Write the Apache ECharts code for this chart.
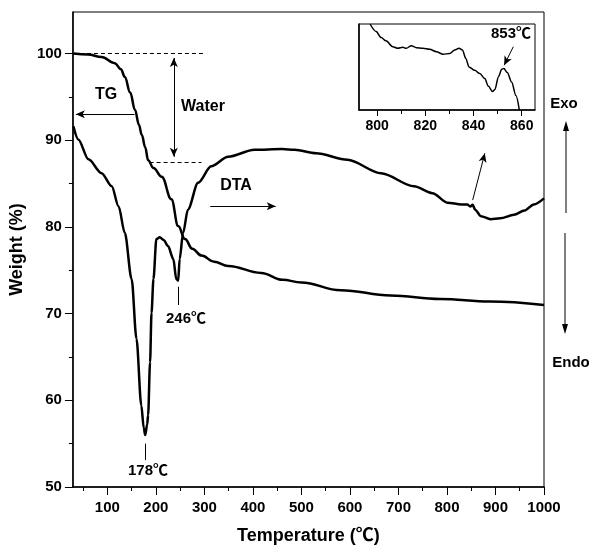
<!DOCTYPE html>
<html>
<head>
<meta charset="utf-8">
<title>TG-DTA</title>
<script src="https://cdn.jsdelivr.net/npm/echarts@6/dist/echarts.min.js"></script>
<style>
    html, body { margin: 0; padding: 0; background: #fff; }
    #tgdta { width: 594px; height: 550px; }
</style>
</head>
<body>
<div id="tgdta"></div>
<script>
// TG 曲线 (温度, 失重%)
var tgTemp = [30, 60, 88, 115, 128, 136, 147, 157, 165, 171, 178, 184, 195, 212, 232, 246, 260, 275, 294, 320, 349, 417, 461, 500, 581, 684, 786, 889, 1000];
var tgWeight = [100, 99.9, 99.6, 98.9, 98.2, 97.3, 95.5, 93.5, 91.8, 90.6, 89.2, 87.7, 86.8, 85.8, 83.2, 80.1, 78.6, 77.5, 76.7, 76.0, 75.5, 74.7, 73.9, 73.6, 72.7, 72.1, 71.7, 71.4, 71.0];

// DTA 曲线, 按主图坐标读取
var dtaTemp = [30, 40, 61, 88, 109, 123, 136, 150, 160, 170, 175, 178, 182, 184, 188, 191, 195, 201, 208, 216, 225, 236, 242, 246, 249, 256, 266, 287, 314, 349, 403, 460, 486, 530, 595, 664, 732, 770, 801, 830, 842, 848, 853, 858, 870, 890, 910, 938, 960, 979, 1000];
var dtaValue = [91.6, 90.1, 87.8, 86.2, 84.7, 82.4, 79.3, 74.0, 67.1, 59.4, 56.8, 56.0, 57.2, 58.3, 64.4, 70.1, 74.0, 78.6, 78.8, 78.5, 77.8, 76.3, 74.0, 73.8, 76.3, 79.3, 82.0, 85.1, 87.0, 88.1, 88.9, 89.0, 88.9, 88.5, 87.75, 86.2, 84.7, 83.9, 82.8, 82.6, 82.6, 82.35, 82.55, 82.0, 81.25, 80.9, 81.0, 81.4, 81.9, 82.6, 83.3];

// 插图 800-860℃ 局部放大 (纵轴无刻度, 0-100)
var insetTemp = [797.1, 799.6, 801.7, 803.7, 806.5, 808.6, 810.7, 812.1, 814.2, 816.3, 819.0, 821.8, 824.6, 827.4, 830.1, 832.2, 834.0, 835.4, 836.8, 838.1, 840.5, 842.6, 844.7, 846.1, 847.9, 848.9, 850.3, 851.7, 852.6, 854.0, 855.8, 857.6, 859.0];
var insetValue = [100, 91.3, 84.2, 80.4, 73.6, 71.7, 72.9, 71.7, 74.8, 72.5, 71.7, 70.5, 67.8, 64.7, 65.8, 69.8, 71.7, 69.8, 60, 50.1, 46.2, 42.3, 36.5, 27.8, 21.5, 23.9, 38.4, 47.4, 48.2, 43.5, 32.5, 16.8, 0];

// 刻度
var xMajorTicks = [100, 200, 300, 400, 500, 600, 700, 800, 900, 1000];
var xMinorTicks = [50, 150, 250, 350, 450, 550, 650, 750, 850, 950];
var yMajorTicks = [50, 60, 70, 80, 90, 100];
var yMinorTicks = [55, 65, 75, 85, 95];
var insetMajorTicks = [800, 820, 840, 860];
var insetMinorTicks = [810, 830, 850];

var fontFamily = 'Liberation Sans, Arial, Noto Sans CJK SC, sans-serif';

function toPairs(xs, ys) {
    var arr = [];
    for (var i = 0; i < xs.length; i++) {
        arr.push([xs[i], ys[i]]);
    }
    return arr;
}

function seg(p1, p2, startSym, endSym) {
    return [
        {coord: p1, symbol: startSym || 'none'},
        {coord: p2, symbol: endSym || 'none'}
    ];
}

function labelStyle(size) {
    return {
        color: '#000',
        fontFamily: fontFamily,
        fontWeight: 'bold',
        fontSize: size
    };
}

function plainNumber(value) {
    return String(value);
}

function textItem(text, x, y, size) {
    return {
        type: 'text',
        x: x,
        y: y,
        style: {
            text: text,
            fill: '#000',
            font: 'bold ' + size + 'px ' + fontFamily,
            textAlign: 'center',
            textVerticalAlign: 'middle'
        }
    };
}

// 次刻度单独用一根不带轴线的坐标轴画
function minorAxis(position, gridIndex, min, max, ticks) {
    return {
        type: 'value',
        gridIndex: gridIndex,
        position: position,
        min: min,
        max: max,
        axisLine: {show: false},
        splitLine: {show: false},
        axisLabel: {show: false},
        axisTick: {
            show: true,
            inside: false,
            length: 4,
            customValues: ticks,
            lineStyle: {color: '#000', width: 1}
        }
    };
}

function initTGDTAChart() {
    var option = {
        animation: false,
        grid: [
            {left: 71, top: 12, width: 473, height: 477, show: true, borderColor: '#000', borderWidth: 1},
            {left: 359, top: 24, width: 176, height: 86, show: true, borderColor: '#000', borderWidth: 1}
        ],
        xAxis: [
            {
                type: 'value',
                gridIndex: 0,
                position: 'bottom',
                min: 29,
                max: 1000,
                name: 'Temperature (℃)',
                nameLocation: 'middle',
                nameGap: 40,
                nameTextStyle: labelStyle(18),
                axisLine: {lineStyle: {color: '#000', width: 1.5}},
                splitLine: {show: false},
                axisTick: {
                    length: 8,
                    customValues: xMajorTicks,
                    lineStyle: {color: '#000', width: 1}
                },
                axisLabel: {
                    customValues: xMajorTicks,
                    formatter: plainNumber,
                    margin: 13,
                    textStyle: labelStyle(15)
                }
            },
            minorAxis('bottom', 0, 29, 1000, xMinorTicks),
            {
                type: 'value',
                gridIndex: 1,
                position: 'bottom',
                min: 792.5,
                max: 865.5,
                axisLine: {lineStyle: {color: '#000', width: 1.5}},
                splitLine: {show: false},
                axisTick: {
                    length: 6,
                    customValues: insetMajorTicks,
                    lineStyle: {color: '#000', width: 1}
                },
                axisLabel: {
                    customValues: insetMajorTicks,
                    formatter: plainNumber,
                    margin: 9,
                    textStyle: labelStyle(14)
                }
            },
            minorAxis('bottom', 1, 792.5, 865.5, insetMinorTicks)
        ],
        yAxis: [
            {
                type: 'value',
                gridIndex: 0,
                position: 'left',
                min: 50,
                max: 104.8,
                name: 'Weight (%)',
                nameLocation: 'middle',
                nameGap: 42,
                nameTextStyle: labelStyle(18),
                axisLine: {lineStyle: {color: '#000', width: 1.5}},
                splitLine: {show: false},
                axisTick: {
                    length: 8,
                    customValues: yMajorTicks,
                    lineStyle: {color: '#000', width: 1}
                },
                axisLabel: {
                    customValues: yMajorTicks,
                    formatter: plainNumber,
                    margin: 11,
                    textStyle: labelStyle(15)
                }
            },
            minorAxis('left', 0, 50, 104.8, yMinorTicks),
            {
                type: 'value',
                gridIndex: 1,
                position: 'left',
                min: 0,
                max: 100,
                axisLine: {lineStyle: {color: '#000', width: 1.5}},
                splitLine: {show: false},
                axisTick: {show: false},
                axisLabel: {show: false}
            }
        ],
        series: [
            {
                name: 'TG',
                type: 'line',
                xAxisIndex: 0,
                yAxisIndex: 0,
                data: toPairs(tgTemp, tgWeight),
                showSymbol: false,
                smooth: 0.4,
                smoothMonotone: 'x',
                lineStyle: {color: '#000', width: 2.5},
                markLine: {
                    silent: true,
                    symbol: ['none', 'none'],
                    symbolSize: [6, 9],
                    label: {show: false},
                    lineStyle: {color: '#000', width: 1, type: 'solid'},
                    data: [
                        // 失水虚线
                        [{coord: [29, 100], lineStyle: {type: [4, 3]}}, {coord: [300, 100]}],
                        [{coord: [187, 87.5], lineStyle: {type: [4, 3]}}, {coord: [294, 87.5]}],
                        seg([237, 99.5], [237, 88.1], 'arrow', 'arrow'),
                        seg([156, 93], [35, 93], 'none', 'arrow'),
                        seg([312, 82.4], [447, 82.4], 'none', 'arrow'),
                        seg([245.7, 73.1], [245.7, 71.0]),
                        seg([177.2, 55.0], [177.2, 53.1]),
                        seg([853, 83.1], [878, 88.5], 'none', 'arrow')
                    ]
                }
            },
            {
                name: 'DTA',
                type: 'line',
                xAxisIndex: 0,
                yAxisIndex: 0,
                data: toPairs(dtaTemp, dtaValue),
                showSymbol: false,
                smooth: 0.3,
                smoothMonotone: 'x',
                lineStyle: {color: '#000', width: 2.5}
            },
            {
                name: 'DTA 800-860',
                type: 'line',
                xAxisIndex: 2,
                yAxisIndex: 2,
                data: toPairs(insetTemp, insetValue),
                showSymbol: false,
                smooth: 0.3,
                smoothMonotone: 'x',
                lineStyle: {color: '#000', width: 1.5},
                markLine: {
                    silent: true,
                    symbol: ['none', 'none'],
                    symbolSize: [6, 9],
                    label: {show: false},
                    lineStyle: {color: '#000', width: 1, type: 'solid'},
                    data: [
                        seg([856.5, 73.6], [852.7, 52.1], 'none', 'arrow')
                    ]
                }
            }
        ],
        graphic: [
            textItem('TG', 106, 95, 16),
            textItem('Water', 203, 107, 16),
            textItem('DTA', 236, 186, 16),
            textItem('246℃', 186, 319, 15),
            textItem('178℃', 148, 471, 15),
            textItem('853℃', 511, 34, 15),
            textItem('Exo', 564, 104, 15),
            textItem('Endo', 571, 363, 15),
            {type: 'line', shape: {x1: 566, y1: 213, x2: 566, y2: 127}, style: {stroke: '#000', lineWidth: 1}},
            {type: 'polygon', shape: {points: [[566, 121], [563, 131], [569, 131]]}, style: {fill: '#000'}},
            {type: 'line', shape: {x1: 565, y1: 233, x2: 565, y2: 328}, style: {stroke: '#000', lineWidth: 1}},
            {type: 'polygon', shape: {points: [[565, 334], [562, 324], [568, 324]]}, style: {fill: '#000'}}
        ]
    };
    var chart = echarts.init(document.getElementById('tgdta'));
    chart.setOption(option, true);
}

initTGDTAChart();
</script>
</body>
</html>
